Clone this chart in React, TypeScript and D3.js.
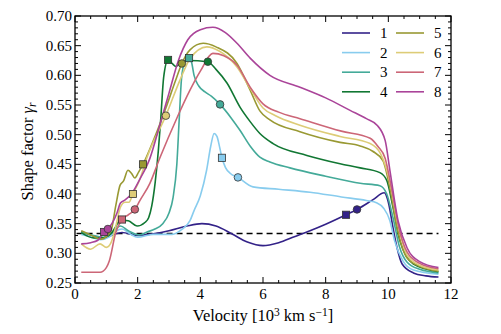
import * as d3 from "d3";

const W = 501;
const H = 334;
const plot = { left: 75, right: 451, top: 16, bottom: 283 };

const labels = ["1", "2", "3", "4", "5", "6", "7", "8"];
const colors = ["#332288", "#88CCEE", "#44AA99", "#117733", "#999933", "#DDCC77", "#CC6677", "#AA4499"];

const xTicks = [0, 2, 4, 6, 8, 10, 12];
const yTicks = [0.25, 0.3, 0.35, 0.4, 0.45, 0.5, 0.55, 0.6, 0.65, 0.7];
const isotropic = 1 / 3;

type Pt = [number, number];

const s1: Pt[] = [[0.2,0.337],[0.6,0.329],[0.9,0.326],[1.2,0.331],[1.5,0.335],[2.0,0.330],[2.5,0.333],[3.0,0.338],[3.57,0.346],[4.05,0.350],[4.5,0.346],[5.0,0.333],[5.5,0.319],[6.0,0.313],[6.5,0.318],[7.0,0.328],[7.5,0.338],[8.0,0.349],[8.65,0.365],[9.0,0.374],[9.5,0.39],[9.87,0.402],[10.0,0.386],[10.15,0.343],[10.28,0.309],[10.44,0.282],[10.8,0.267],[11.2,0.262],[11.6,0.26]];
const s2: Pt[] = [[0.2,0.332],[0.5,0.328],[0.8,0.323],[1.1,0.328],[1.3,0.337],[1.5,0.341],[1.75,0.333],[2.0,0.327],[2.5,0.332],[3.1,0.332],[3.4,0.34],[3.67,0.355],[3.8,0.372],[4.0,0.397],[4.2,0.44],[4.33,0.48],[4.44,0.502],[4.53,0.497],[4.62,0.478],[4.69,0.461],[4.8,0.445],[4.95,0.435],[5.2,0.428],[5.68,0.412],[6.5,0.408],[7.5,0.403],[8.5,0.395],[9.3,0.389],[9.64,0.385],[9.85,0.376],[10.05,0.355],[10.2,0.321],[10.47,0.287],[10.8,0.272],[11.6,0.265]];
const s3: Pt[] = [[0.2,0.336],[0.6,0.33],[0.9,0.327],[1.2,0.336],[1.45,0.346],[1.7,0.338],[2.04,0.331],[2.3,0.336],[2.55,0.341],[2.8,0.35],[3.0,0.368],[3.13,0.394],[3.25,0.45],[3.33,0.53],[3.4,0.595],[3.5,0.622],[3.64,0.629],[3.72,0.622],[3.8,0.6],[3.95,0.582],[4.15,0.572],[4.35,0.565],[4.63,0.551],[5.0,0.527],[5.27,0.507],[5.6,0.48],[5.9,0.462],[6.22,0.454],[6.86,0.444],[8.0,0.43],[9.1,0.418],[9.73,0.414],[9.95,0.4],[10.15,0.36],[10.35,0.312],[10.6,0.285],[11.0,0.273],[11.6,0.267]];
const s4: Pt[] = [[0.2,0.335],[0.6,0.326],[0.86,0.326],[1.15,0.333],[1.3,0.345],[1.44,0.356],[1.7,0.355],[1.98,0.346],[2.23,0.352],[2.35,0.36],[2.45,0.38],[2.56,0.42],[2.66,0.473],[2.74,0.529],[2.83,0.597],[2.97,0.626],[3.1,0.62],[3.22,0.615],[3.4,0.622],[3.6,0.625],[4.24,0.623],[4.5,0.61],[4.85,0.587],[5.27,0.546],[5.59,0.522],[5.9,0.502],[6.32,0.485],[7.4,0.465],[8.46,0.451],[9.1,0.444],[9.73,0.436],[9.95,0.423],[10.15,0.377],[10.37,0.321],[10.8,0.282],[11.6,0.269]];
const s5: Pt[] = [[0.2,0.338],[0.5,0.331],[0.83,0.324],[1.15,0.338],[1.3,0.38],[1.44,0.415],[1.55,0.422],[1.69,0.44],[1.8,0.435],[1.91,0.427],[2.03,0.437],[2.17,0.45],[2.5,0.49],[2.9,0.545],[3.2,0.59],[3.41,0.62],[3.67,0.643],[4.09,0.654],[4.5,0.648],[5.17,0.62],[5.59,0.575],[5.9,0.54],[6.22,0.525],[7.18,0.505],[8.46,0.487],[9.1,0.481],[9.5,0.472],[9.83,0.456],[10.05,0.41],[10.28,0.343],[10.6,0.292],[11.0,0.278],[11.6,0.27]];
const s6: Pt[] = [[0.2,0.316],[0.5,0.307],[0.8,0.316],[1.0,0.31],[1.15,0.318],[1.3,0.345],[1.45,0.378],[1.6,0.386],[1.72,0.386],[1.85,0.4],[2.07,0.425],[2.3,0.462],[2.9,0.532],[3.35,0.592],[3.67,0.628],[4.21,0.648],[4.6,0.641],[5.17,0.614],[5.59,0.578],[6.0,0.545],[6.4,0.532],[7.18,0.516],[8.46,0.497],[9.42,0.485],[9.75,0.468],[10.05,0.42],[10.3,0.35],[10.6,0.297],[11.0,0.28],[11.6,0.272]];
const s7: Pt[] = [[0.2,0.268],[0.8,0.268],[1.0,0.276],[1.1,0.288],[1.3,0.335],[1.5,0.357],[1.7,0.365],[1.91,0.374],[2.07,0.389],[2.39,0.418],[2.71,0.461],[3.26,0.529],[3.67,0.575],[4.0,0.607],[4.4,0.637],[4.75,0.633],[5.17,0.617],[5.59,0.58],[6.0,0.552],[6.5,0.538],[7.18,0.527],[8.5,0.506],[9.42,0.494],[9.67,0.48],[9.9,0.46],[10.1,0.41],[10.35,0.34],[10.6,0.302],[11.0,0.283],[11.6,0.274]];
const s8: Pt[] = [[0.2,0.316],[0.5,0.318],[0.73,0.322],[0.93,0.336],[1.05,0.341],[1.2,0.352],[1.34,0.368],[1.45,0.385],[1.6,0.39],[1.8,0.4],[2.07,0.425],[2.39,0.46],[2.7,0.515],[3.0,0.57],[3.3,0.625],[3.6,0.66],[4.0,0.677],[4.4,0.681],[4.8,0.672],[5.17,0.654],[5.59,0.629],[6.22,0.6],[7.18,0.58],[8.0,0.562],[8.78,0.541],[9.3,0.527],[9.64,0.516],[9.9,0.49],[10.05,0.44],[10.31,0.355],[10.6,0.309],[11.0,0.286],[11.6,0.276]];

const series = [s1, s2, s3, s4, s5, s6, s7, s8];

// marker positions (square, circle) per series
const squares: Pt[] = [[8.65,0.365],[4.69,0.461],[3.64,0.629],[2.97,0.626],[2.17,0.45],[1.85,0.4],[1.5,0.357],[0.93,0.336]];
const circles: Pt[] = [[9.0,0.374],[5.2,0.428],[4.63,0.551],[4.24,0.623],[3.41,0.62],[2.9,0.532],[1.91,0.374],[1.05,0.341]];

const FONT = "'Liberation Serif', 'DejaVu Serif', serif";

export default function App() {
  const x = d3.scaleLinear().domain([0, 12]).range([plot.left, plot.right]);
  const y = d3.scaleLinear().domain([0.25, 0.7]).range([plot.bottom, plot.top]);
  const line = d3.line<Pt>().x(d => x(d[0])).y(d => y(d[1])).curve(d3.curveMonotoneX);

  const xMinor = d3.range(0, 12.01, 0.5).filter(v => Math.abs(v % 2) > 1e-6);
  const yMinor = d3.range(0.25, 0.7001, 0.01).filter(v => !yTicks.some(t => Math.abs(t - v) < 1e-6));
  const fmt = d3.format(".2f");

  return (
    <svg width={W} height={H} style={{ position: "absolute", left: 0, top: 0 }} fontFamily={FONT}>
      <rect width={W} height={H} fill="white" />
      <line x1={x(0.05)} x2={x(11.6)} y1={y(isotropic)} y2={y(isotropic)} stroke="black" strokeWidth={1.5} strokeDasharray="6,4" />
      {series.map((s, i) => (
        <path key={i} d={line(s) || ""} fill="none" stroke={colors[i]} strokeWidth={1.6} />
      ))}
      {squares.map((p, i) => (
        <rect key={"sq" + i} x={x(p[0]) - 3.6} y={y(p[1]) - 3.6} width={7.2} height={7.2} fill={colors[i]} stroke="#333" strokeWidth={0.8} />
      ))}
      {circles.map((p, i) => (
        <circle key={"c" + i} cx={x(p[0])} cy={y(p[1])} r={3.8} fill={colors[i]} stroke="#333" strokeWidth={0.8} />
      ))}
      {/* frame */}
      <rect x={plot.left} y={plot.top} width={plot.right - plot.left} height={plot.bottom - plot.top} fill="none" stroke="black" strokeWidth={1.3} />
      {xTicks.map(t => (
        <g key={"xt" + t}>
          <line x1={x(t)} x2={x(t)} y1={plot.bottom} y2={plot.bottom - 6} stroke="black" />
          <line x1={x(t)} x2={x(t)} y1={plot.top} y2={plot.top + 6} stroke="black" />
          <text x={x(t)} y={298.5} fontSize={15} textAnchor="middle">{t}</text>
        </g>
      ))}
      {xMinor.map(t => (
        <g key={"xm" + t}>
          <line x1={x(t)} x2={x(t)} y1={plot.bottom} y2={plot.bottom - 3} stroke="black" />
          <line x1={x(t)} x2={x(t)} y1={plot.top} y2={plot.top + 3} stroke="black" />
        </g>
      ))}
      {yTicks.map(t => (
        <g key={"yt" + t}>
          <line x1={plot.left} x2={plot.left + 6} y1={y(t)} y2={y(t)} stroke="black" />
          <line x1={plot.right} x2={plot.right - 6} y1={y(t)} y2={y(t)} stroke="black" />
          <text x={72} y={y(t) + 5} fontSize={15} textAnchor="end">{fmt(t)}</text>
        </g>
      ))}
      {yMinor.map(t => (
        <g key={"ym" + t.toFixed(2)}>
          <line x1={plot.left} x2={plot.left + 3} y1={y(t)} y2={y(t)} stroke="black" />
          <line x1={plot.right} x2={plot.right - 3} y1={y(t)} y2={y(t)} stroke="black" />
        </g>
      ))}
      {/* axis labels */}
      <text x={(plot.left + plot.right) / 2} y={321} fontSize={16.5} textAnchor="middle">
        Velocity [10<tspan dy={-5.5} fontSize={11.5}>3</tspan><tspan dy={5.5}> km s</tspan>
        <tspan dy={-5.5} fontSize={11.5}>−1</tspan><tspan dy={5.5}>]</tspan>
      </text>
      <text transform={`translate(33,${(plot.top + plot.bottom) / 2 + 2}) rotate(-90)`} fontSize={16.5} textAnchor="middle">
        Shape factor <tspan fontStyle="italic">γ</tspan><tspan fontStyle="italic" fontSize={11.5} dy={3}>r</tspan>
      </text>
      {/* legend */}
      {labels.map((l, i) => {
        const col = Math.floor(i / 4);
        const row = i % 4;
        const lx = col === 0 ? 342 : 396;
        const ly = 33 + row * 19.6;
        return (
          <g key={"lg" + i}>
            <line x1={lx} x2={lx + 28} y1={ly} y2={ly} stroke={colors[i]} strokeWidth={1.6} />
            <text x={lx + 38} y={ly + 5} fontSize={15}>{l}</text>
          </g>
        );
      })}
    </svg>
  );
}
